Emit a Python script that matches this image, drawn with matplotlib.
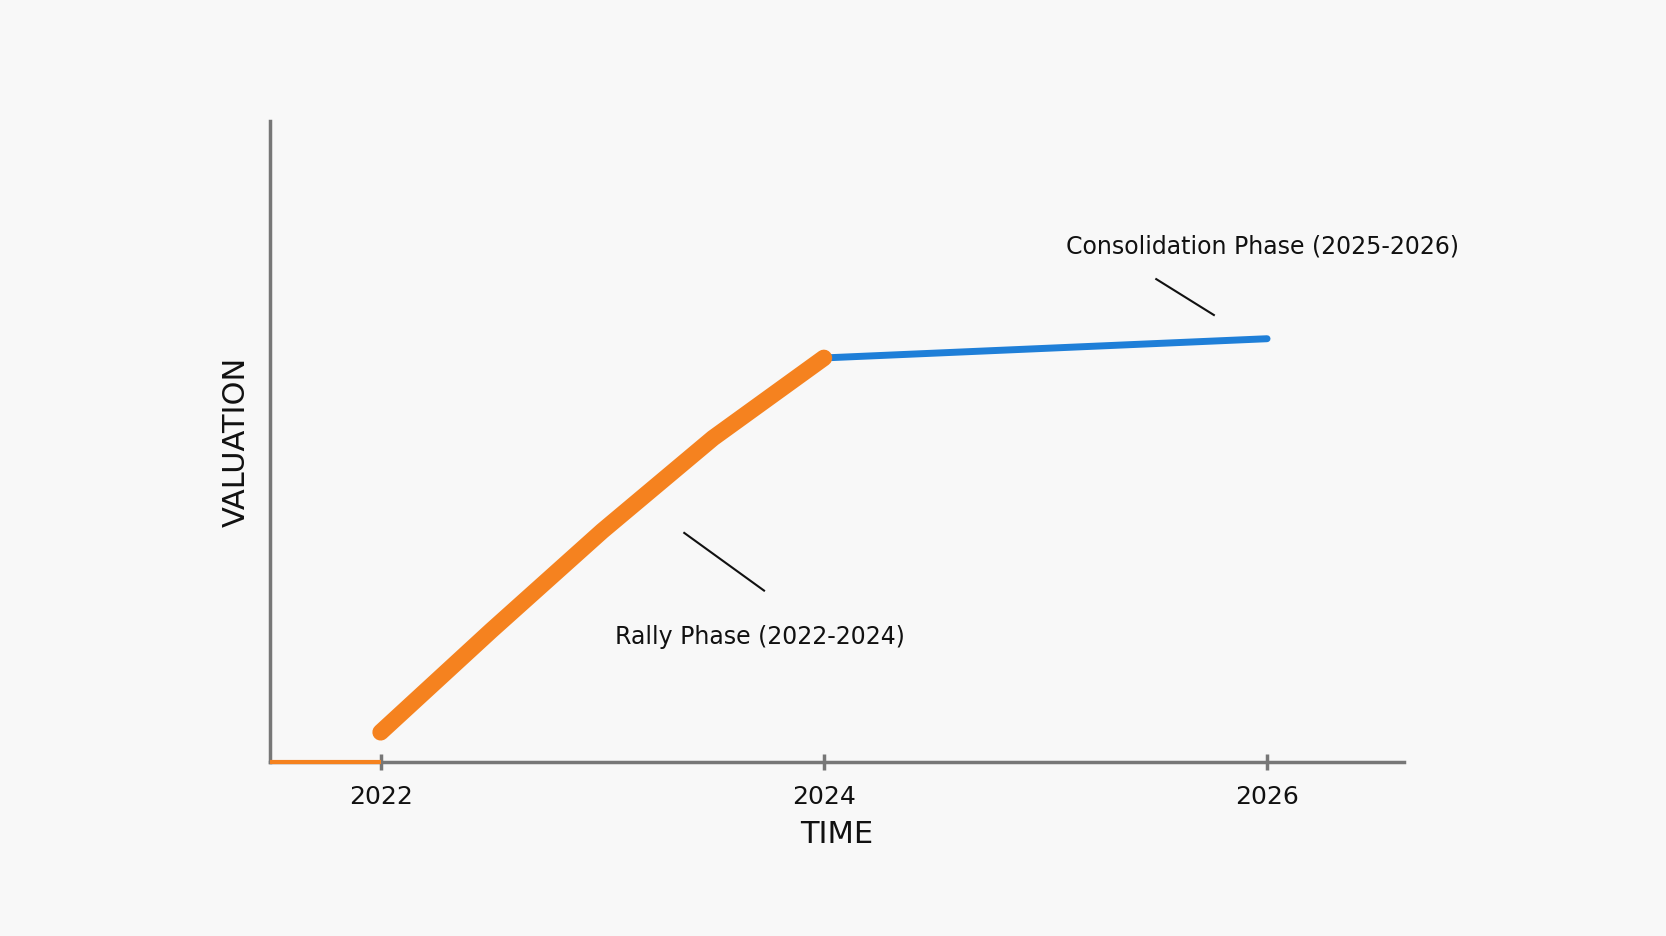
import matplotlib
matplotlib.use("Agg")
import matplotlib.pyplot as plt

flat_x = [2021.5, 2022.0]
flat_y = [0, 0]
rally_x = [2022.0, 2022.5, 2023.0, 2023.5, 2024.0]
rally_y = [4.6, 20.5, 36.0, 50.5, 63.0]
cons_x = [2024.0, 2025.0, 2026.0]
cons_y = [63.0, 64.5, 66.0]
ticks = [2022, 2024, 2026]
tick_labels = ["2022", "2024", "2026"]

bg = "#f8f8f8"
fig = plt.figure(figsize=(16.66, 9.37), dpi=100, facecolor=bg)
ax = fig.add_axes([0.162, 0.186, 0.681, 0.684], facecolor=bg)
ax.set_xlim(2021.5, 2026.62)
ax.set_ylim(0, 100)

ax.plot(flat_x, flat_y, color="#f5821f", lw=3, solid_capstyle="butt", clip_on=False, zorder=3)
ax.plot(rally_x, rally_y, color="#f5821f", lw=12, solid_capstyle="round", zorder=3)
ax.plot(cons_x, cons_y, color="#1f7fd8", lw=5, solid_capstyle="round", zorder=2)

for s in ["top", "right"]:
    ax.spines[s].set_visible(False)
for s in ["left", "bottom"]:
    ax.spines[s].set_color("#777777")
    ax.spines[s].set_linewidth(2.5)
ax.set_yticks([])
ax.set_xticks(ticks)
ax.set_xticklabels(tick_labels, fontsize=18, color="#111111")
ax.tick_params(axis="x", length=12, width=2.5, color="#777777", direction="inout", pad=10)
ax.set_xlabel("TIME", fontsize=22, color="#111111", labelpad=8)
ax.set_ylabel("VALUATION", fontsize=22, color="#111111", labelpad=14)

ax.text(2025.98, 80.6, "Consolidation Phase (2025-2026)", ha="center", va="center", fontsize=17, color="#111111")
ax.plot([2025.50, 2025.76], [75.3, 69.7], color="#111111", lw=1.5)
ax.text(2023.71, 19.6, "Rally Phase (2022-2024)", ha="center", va="center", fontsize=17, color="#111111")
ax.plot([2023.37, 2023.73], [35.7, 26.7], color="#111111", lw=1.5)

fig.savefig("out.png", dpi=100, facecolor=bg)
